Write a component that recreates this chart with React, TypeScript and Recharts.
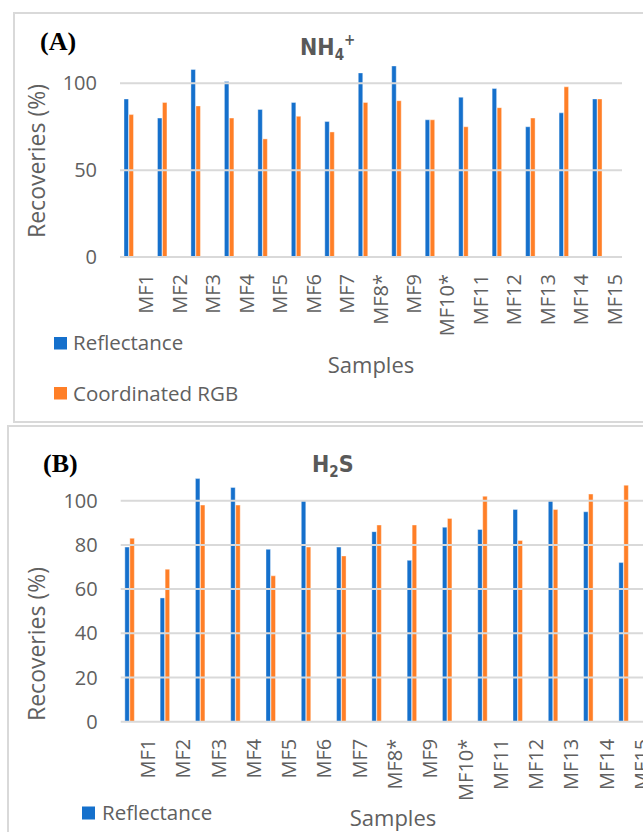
import React from 'react';
import { BarChart, Bar, XAxis, YAxis, ReferenceLine } from 'recharts';

const categories = ['MF1', 'MF2', 'MF3', 'MF4', 'MF5', 'MF6', 'MF7', 'MF8*', 'MF9', 'MF10*', 'MF11', 'MF12', 'MF13', 'MF14', 'MF15'];

// NH4+ recoveries (%)
const nh4Reflectance = [91, 80, 108, 101, 85, 89, 78, 106, 110, 79, 92, 97, 75, 83, 91];
const nh4Rgb = [82, 89, 87, 80, 68, 81, 72, 89, 90, 79, 75, 86, 80, 98, 91];

// H2S recoveries (%)
const h2sReflectance = [79, 56, 110, 106, 78, 100, 79, 86, 73, 88, 87, 96, 100, 95, 72];
const h2sRgb = [83, 69, 98, 98, 66, 79, 75, 89, 89, 92, 102, 82, 96, 103, 107];

const nh4Ticks = [0, 50, 100];
const h2sTicks = [0, 20, 40, 60, 80, 100];

const BLUE = '#1570cc';
const ORANGE = '#ff7f27';
const GRID = '#d9d9d9';
const TEXT = '#606060';
const FONT = '"Open Sans", sans-serif';
const TITLE_FONT = '"Liberation Sans Narrow", "DejaVu Sans Condensed", sans-serif';

const nh4Data = categories.map((name, i) => ({ name, reflectance: nh4Reflectance[i], rgb: nh4Rgb[i] }));
const h2sData = categories.map((name, i) => ({ name, reflectance: h2sReflectance[i], rgb: h2sRgb[i] }));

function CategoryTick(props: any) {
  const { x, y, payload, shift } = props;
  return (
    <text
      transform={`translate(${x + shift},${y}) rotate(-90)`}
      textAnchor="end"
      fill={TEXT}
      fontSize={20}
      fontFamily={FONT}
    >
      {payload.value}
    </text>
  );
}

interface PanelProps {
  data: Array<{ name: string; reflectance: number; rgb: number }>;
  ticks: number[];
  width: number;
  height: number;
  margin: { top: number; right: number; bottom: number; left: number };
  yAxisWidth: number;
  pad: number;
  labelShift: number;
}

function Panel({ data, ticks, width, height, margin, yAxisWidth, pad, labelShift }: PanelProps) {
  return (
    <BarChart width={width} height={height} data={data} margin={margin} barSize={4.5} barGap={0.5}>
      <XAxis
        dataKey="name"
        interval={0}
        height={60}
        axisLine={false}
        tickLine={false}
        tickSize={0}
        tickMargin={17}
        padding={{ left: -pad, right: pad }}
        tick={(p: any) => <CategoryTick {...p} shift={labelShift} />}
      />
      <YAxis
        width={yAxisWidth}
        domain={[0, 120]}
        ticks={ticks}
        axisLine={false}
        tickLine={false}
        tickSize={0}
        tickMargin={23}
        tick={{ fill: TEXT, fontSize: 20, fontFamily: FONT }}
      />
      {/* gridlines only at the labelled ticks */}
      {ticks.map((t) => (
        <ReferenceLine key={t} y={t} stroke={GRID} strokeWidth={2} />
      ))}
      <Bar dataKey="reflectance" fill={BLUE} stroke="#ffffff" strokeWidth={0.4} isAnimationActive={false} />
      <Bar dataKey="rgb" fill={ORANGE} stroke="#ffffff" strokeWidth={0.4} isAnimationActive={false} />
    </BarChart>
  );
}

export default function App() {
  return (
    <div style={{ position: 'absolute', left: 0, top: 0, width: 643, height: 832, overflow: 'hidden', background: '#fff' }}>
      {/* panel frames */}
      <div style={{ position: 'absolute', left: 12.5, top: 12, width: 700, height: 407, border: `2px solid ${GRID}` }} />
      <div style={{ position: 'absolute', left: 6.5, top: 425, width: 700, height: 500, border: `2px solid ${GRID}` }} />

      <div style={{ position: 'absolute', left: 0, top: 0 }}>
        <Panel
          data={nh4Data}
          ticks={nh4Ticks}
          width={643}
          height={420}
          margin={{ top: 48.6, right: 21, bottom: 103, left: 0 }}
          yAxisWidth={120}
          pad={8}
          labelShift={24.5}
        />
      </div>

      <div style={{ position: 'absolute', left: 0, top: 426 }}>
        <Panel
          data={h2sData}
          ticks={h2sTicks}
          width={680}
          height={406}
          margin={{ top: 30.5, right: 30, bottom: 50.3, left: 0 }}
          yAxisWidth={120.7}
          pad={8.85}
          labelShift={25.5}
        />
      </div>

      <svg width={643} height={832} style={{ position: 'absolute', left: 0, top: 0, pointerEvents: 'none' }}>
        {/* panel A labels */}
        <text x={40} y={50} fontFamily='"Liberation Serif", serif' fontWeight="bold" fontSize={26} fill="#000">(A)</text>
        <text x={300} y={55} fontFamily={TITLE_FONT} fontWeight="bold" fontSize={23} fill="#595959">
          NH<tspan fontSize={15} dy={5}>4</tspan><tspan fontSize={15} dy={-15}>+</tspan>
        </text>
        <text transform="translate(45,161) rotate(-90)" textAnchor="middle" fontFamily={FONT} fontSize={23} fill={TEXT}>Recoveries (%)</text>
        <text x={371} y={373} textAnchor="middle" fontFamily={FONT} fontSize={22} fill={TEXT}>Samples</text>
        <rect x={54} y={337} width={13} height={12.5} fill={BLUE} />
        <text x={73} y={349.5} fontFamily={FONT} fontSize={20.5} fill={TEXT}>Reflectance</text>
        <rect x={54} y={387} width={13} height={12.5} fill={ORANGE} />
        <text x={73} y={400.5} fontFamily={FONT} fontSize={20.5} fill={TEXT}>Coordinated RGB</text>

        {/* panel B labels */}
        <text x={43} y={472} fontFamily='"Liberation Serif", serif' fontWeight="bold" fontSize={26} fill="#000">(B)</text>
        <text x={312} y={472} fontFamily={TITLE_FONT} fontWeight="bold" fontSize={23} fill="#595959">
          H<tspan fontSize={15} dy={5}>2</tspan><tspan dy={-5}>S</tspan>
        </text>
        <text transform="translate(45,644) rotate(-90)" textAnchor="middle" fontFamily={FONT} fontSize={23} fill={TEXT}>Recoveries (%)</text>
        <text x={393} y={826} textAnchor="middle" fontFamily={FONT} fontSize={22} fill={TEXT}>Samples</text>
        <rect x={82} y={806.5} width={13} height={13} fill={BLUE} />
        <text x={102} y={820} fontFamily={FONT} fontSize={20.5} fill={TEXT}>Reflectance</text>
      </svg>
    </div>
  );
}
